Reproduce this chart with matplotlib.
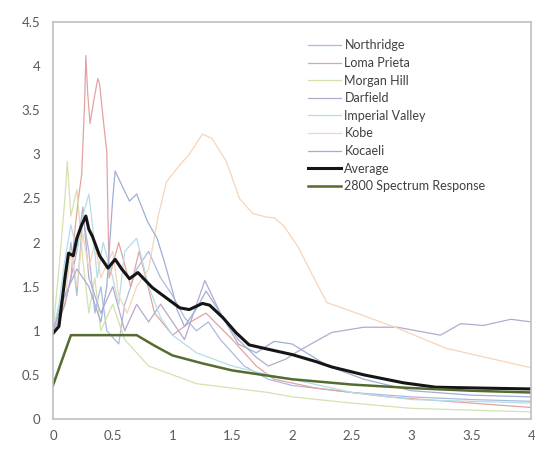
import matplotlib
matplotlib.use("Agg")
import matplotlib.pyplot as plt

plt.rcParams['font.family'] = ['Lato', 'DejaVu Sans']

names = ["Northridge", "Loma Prieta", "Morgan Hill", "Darfield", "Imperial Valley",
         "Kobe", "Kocaeli", "Average", "2800 Spectrum Response"]

northridge_T = [0, 0.1, 0.15, 0.2, 0.25, 0.3, 0.35, 0.4, 0.45, 0.55, 0.6, 0.7, 0.8, 0.9,
                1.0, 1.1, 1.2, 1.3, 1.4, 1.6, 1.8, 2.0, 2.5, 3.0, 3.5, 4.0]
northridge_S = [1.0, 1.5, 2.0, 1.4, 2.3, 1.9, 1.2, 1.5, 1.0, 0.85, 1.3, 1.7, 1.9, 1.6,
                1.4, 1.15, 1.0, 1.1, 0.9, 0.6, 0.45, 0.38, 0.3, 0.25, 0.22, 0.2]

loma_T = [0, 0.05, 0.1, 0.15, 0.18, 0.21, 0.24, 0.265, 0.275, 0.29, 0.31, 0.34, 0.375,
          0.39, 0.42, 0.45, 0.47, 0.55, 0.65, 0.72, 0.85, 1.0, 1.15, 1.28, 1.5, 1.7,
          1.85, 2.2, 2.8, 3.5, 4.0]
loma_S = [1.0, 1.1, 1.3, 1.6, 2.1, 2.47, 2.77, 3.6, 4.12, 3.7, 3.35, 3.6, 3.86,
          3.8, 3.4, 3.03, 1.6, 2.0, 1.5, 1.9, 1.2, 0.95, 1.1, 1.2, 0.9, 0.6,
          0.45, 0.35, 0.25, 0.18, 0.13]

morgan_T = [0, 0.05, 0.1, 0.12, 0.15, 0.2, 0.25, 0.3, 0.35, 0.4, 0.5, 0.6, 0.7, 0.8,
            1.0, 1.2, 1.5, 1.8, 2.0, 2.5, 3.0, 3.5, 4.0]
morgan_S = [1.0, 1.7, 2.5, 2.92, 2.3, 2.6, 1.8, 1.2, 1.6, 1.0, 1.3, 0.9, 0.75, 0.6,
            0.5, 0.4, 0.35, 0.3, 0.25, 0.18, 0.12, 0.1, 0.08]

darfield_T = [0, 0.1, 0.2, 0.25, 0.3, 0.4, 0.5, 0.6, 0.7, 0.8, 0.9, 1.0, 1.1, 1.27,
              1.4, 1.55, 1.7, 1.8, 1.95, 2.04, 2.33, 2.6, 2.88, 3.24, 3.41, 3.6, 3.83, 4.0]
darfield_S = [1.0, 1.3, 1.9, 2.4, 1.6, 1.2, 1.5, 1.0, 1.3, 1.1, 1.3, 1.1, 0.9, 1.57,
              1.2, 0.9, 0.7, 0.6, 0.68, 0.76, 0.98, 1.04, 1.04, 0.95, 1.08, 1.06, 1.13, 1.1]

imperial_T = [0, 0.05, 0.1, 0.15, 0.2, 0.25, 0.3, 0.33, 0.37, 0.42, 0.5, 0.55, 0.6, 0.7,
              0.8, 0.9, 1.0, 1.2, 1.5, 1.8, 2.0, 2.5, 3.0, 3.5, 4.0]
imperial_S = [1.0, 1.3, 1.8, 2.2, 1.9, 2.3, 2.55, 2.2, 1.6, 2.0, 1.6, 1.3, 1.9, 2.05,
              1.5, 1.15, 0.95, 0.75, 0.6, 0.5, 0.45, 0.3, 0.22, 0.2, 0.18]

kobe_T = [0, 0.1, 0.15, 0.2, 0.25, 0.3, 0.35, 0.4, 0.5, 0.55, 0.62, 0.7, 0.8, 0.88,
          0.95, 1.06, 1.14, 1.25, 1.33, 1.45, 1.56, 1.67, 1.78, 1.85, 1.93, 2.05,
          2.14, 2.29, 2.6, 2.88, 3.29, 4.0]
kobe_S = [1.0, 1.35, 1.9, 1.5, 2.1, 1.7, 2.0, 1.6, 1.9, 1.4, 1.2, 1.5, 1.7, 2.3,
          2.69, 2.88, 3.0, 3.23, 3.18, 2.92, 2.5, 2.33, 2.29, 2.28, 2.19, 1.95,
          1.71, 1.32, 1.17, 1.03, 0.80, 0.58]

kocaeli_T = [0, 0.1, 0.2, 0.3, 0.4, 0.45, 0.5, 0.52, 0.6, 0.64, 0.7, 0.79, 0.87, 0.93,
             1.0, 1.04, 1.1, 1.2, 1.28, 1.4, 1.55, 1.7, 1.85, 2.0, 2.3, 2.6, 3.0, 3.5, 4.0]
kocaeli_S = [1.0, 1.4, 1.7, 1.5, 1.1, 1.5, 2.5, 2.81, 2.58, 2.47, 2.55, 2.24, 2.05, 1.79,
             1.45, 1.23, 1.05, 1.25, 1.45, 1.2, 0.85, 0.75, 0.88, 0.85, 0.6, 0.45, 0.32, 0.27, 0.25]

avg_T = [0, 0.05, 0.1, 0.13, 0.17, 0.2, 0.24, 0.275, 0.3, 0.33, 0.39, 0.46, 0.52, 0.575,
         0.64, 0.71, 0.83, 0.96, 1.06, 1.14, 1.25, 1.31, 1.42, 1.53, 1.64, 1.8, 2.0,
         2.2, 2.33, 2.6, 2.93, 3.2, 3.58, 4.0]
avg_S = [0.97, 1.05, 1.6, 1.88, 1.85, 2.05, 2.2, 2.3, 2.15, 2.07, 1.85, 1.71, 1.81, 1.70,
         1.59, 1.66, 1.49, 1.36, 1.26, 1.24, 1.31, 1.29, 1.15, 0.98, 0.84, 0.79, 0.73,
         0.65, 0.59, 0.50, 0.41, 0.36, 0.35, 0.34]

code_T = [0, 0.15, 0.7, 0.85, 1.0, 1.25, 1.5, 2.0, 2.5, 3.0, 3.5, 4.0]
code_S = [0.38, 0.95, 0.95, 0.83, 0.72, 0.63, 0.55, 0.45, 0.39, 0.35, 0.32, 0.30]

x_ticks = [0, 0.5, 1, 1.5, 2, 2.5, 3, 3.5, 4]
y_ticks = [0, 0.5, 1, 1.5, 2, 2.5, 3, 3.5, 4, 4.5]

series = [
    (northridge_T, northridge_S, "#A9BCE0", 0.9),
    (loma_T, loma_S, "#E3A3A1", 0.9),
    (morgan_T, morgan_S, "#D3E2AE", 0.9),
    (darfield_T, darfield_S, "#B5AACB", 0.9),
    (imperial_T, imperial_S, "#B4DDE8", 0.9),
    (kobe_T, kobe_S, "#F8D4B8", 0.9),
    (kocaeli_T, kocaeli_S, "#9FAFD4", 0.9),
    (avg_T, avg_S, "#151515", 2.2),
    (code_T, code_S, "#556B2F", 1.8),
]

fig = plt.figure(figsize=(5.35, 4.5), dpi=100)
ax = fig.add_axes([0.099, 0.069, 0.894, 0.882])

for (T, S, c, lw), name in zip(series, names):
    ax.plot(T, S, color=c, lw=lw, label=name)

ax.set_xlim(0, 4)
ax.set_ylim(0, 4.5)
ax.set_xticks(x_ticks)
ax.set_xticklabels([f"{v:g}" for v in x_ticks])
ax.set_yticks(y_ticks)
ax.set_yticklabels([f"{v:g}" for v in y_ticks])
ax.tick_params(axis="y", length=0, labelsize=9.5, colors="#595959", pad=9)
ax.tick_params(axis="x", length=0, labelsize=9.5, colors="#595959", pad=8)
for sp in ax.spines.values():
    sp.set_color("#BFBFBF")
    sp.set_linewidth(1.2)

leg = ax.legend(loc="upper left", bbox_to_anchor=(0.51, 0.985), frameon=False,
                fontsize=9, handlelength=2.6, labelspacing=0.45, handletextpad=0.3)
for t in leg.get_texts():
    t.set_color("#404040")

fig.savefig("out.png", dpi=100)
